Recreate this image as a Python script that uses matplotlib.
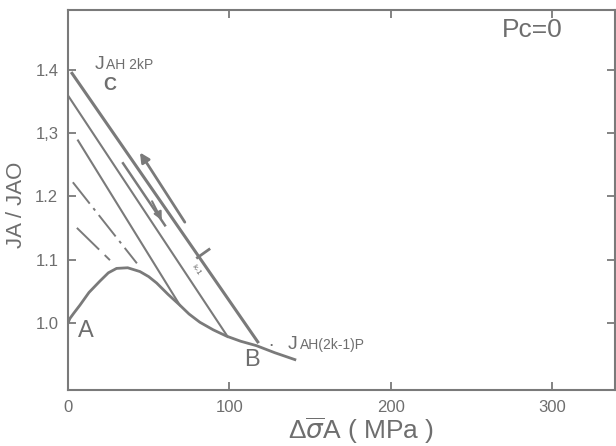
import matplotlib
matplotlib.use('Agg')
import matplotlib.pyplot as plt

# values (x in MPa, y = JA/JAO)
curve_x = [0, 1.2, 3.5, 7.4, 13.0, 19.8, 25.0, 30.1, 37.0, 44.6, 50.0, 54.9,
           62.0, 69.3, 75.0, 81.7, 90.0, 98.3, 107.0, 116.8, 128.0, 140.6]
curve_y = [1.000, 1.007, 1.015, 1.028, 1.048, 1.066, 1.079, 1.086, 1.087, 1.081,
           1.073, 1.063, 1.045, 1.028, 1.014, 1.001, 0.989, 0.979, 0.971, 0.964,
           0.953, 0.942]

line_c_x = [2.5, 117.6]
line_c_y = [1.394, 0.970]
line_2_x = [0.0, 99.0]
line_2_y = [1.359, 0.978]
line_3_x = [6.2, 69.3]
line_3_y = [1.288, 1.028]
line_dd_x = [3.0, 42.7]
line_dd_y = [1.222, 1.094]
line_d_x = [5.5, 26.0]
line_d_y = [1.150, 1.099]

# loading path segments beside line C
seg_up_x = [72.4, 44.6]
seg_up_y = [1.159, 1.269]
seg_dn_x = [34.1, 60.1]
seg_dn_y = [1.252, 1.154]
mark_x = [80.2, 87.4]
mark_y = [1.103, 1.116]

xticks = [0, 100, 200, 300]
yticks = [1.0, 1.1, 1.2, 1.3, 1.4]
ylabels = ['1.0', '1.1', '1.2', '1,3', '1.4']

gray = '#7a7a7a'
tgray = '#6e6e6e'

plt.rcParams['font.family'] = ['Liberation Sans', 'DejaVu Sans']

fig = plt.figure(figsize=(6.16, 4.46), dpi=100)
ax = fig.add_axes([68/616., 1-390/446., 547/616., 380/446.])
ax.set_xlim(0, 339)
ax.set_ylim(0.894, 1.494)

ax.plot(curve_x, curve_y, color=gray, lw=2.0)
ax.plot(line_c_x, line_c_y, color=gray, lw=2.2)
ax.plot(line_2_x, line_2_y, color=gray, lw=1.5)
ax.plot(line_3_x, line_3_y, color=gray, lw=1.5)
ax.plot(line_dd_x, line_dd_y, color=gray, lw=1.4, ls=(0, (14, 3, 1.5, 3)))
ax.plot(line_d_x, line_d_y, color=gray, lw=1.4, ls=(0, (16, 4)))

ax.annotate('', xy=(seg_up_x[1], seg_up_y[1]), xytext=(seg_up_x[0], seg_up_y[0]),
            arrowprops=dict(arrowstyle='-|>', color=gray, lw=2.0,
                            mutation_scale=14, shrinkA=0, shrinkB=0))
ax.plot(seg_dn_x, seg_dn_y, color=gray, lw=1.8)
ax.annotate('', xy=(seg_dn_x[1] - 2, seg_dn_y[1] + 0.008),
            xytext=(seg_dn_x[1] - 8, seg_dn_y[1] + 0.038),
            arrowprops=dict(arrowstyle='-|>', color=gray, lw=1.5,
                            mutation_scale=12, shrinkA=0, shrinkB=0))
ax.plot(mark_x, mark_y, color=gray, lw=2.0)

ax.text(79, 1.083, 'k-1', rotation=-57, fontsize=6, color=tgray,
        ha='center', va='center')

# annotations
ax.text(16.5, 1.401, 'J', fontsize=14, color=tgray, va='baseline')
ax.text(23.5, 1.401, 'AH 2kP', fontsize=10, color=tgray, va='baseline')
ax.text(26, 1.375, 'C', fontsize=13, color=tgray, ha='center', va='center',
        fontweight='bold')
ax.text(11, 0.987, 'A', fontsize=17, color=tgray, ha='center', va='center')
ax.text(114, 0.942, 'B', fontsize=17, color=tgray, ha='center', va='center')
ax.text(124, 0.963, '.', fontsize=14, color=tgray, va='baseline')
ax.text(136.2, 0.959, 'J', fontsize=14, color=tgray, va='baseline')
ax.text(143.5, 0.959, 'AH(2k-1)P', fontsize=10, color=tgray, va='baseline')
ax.text(288, 1.462, 'Pc=0', fontsize=19, color=tgray, ha='center', va='center')

ax.set_xticks(xticks)
ax.set_yticks(yticks)
ax.set_yticklabels(ylabels)
ax.tick_params(direction='in', length=6, width=1.3, color=gray,
               labelcolor=tgray, labelsize=12, pad=7,
               top=True, right=True)
for s in ax.spines.values():
    s.set_color(gray)
    s.set_linewidth(1.5)

fig.text(16/616., 1-205/446., 'JA / JAO', rotation=90, fontsize=16,
         color=tgray, ha='center', va='center')
fig.text(361/616., 1-431/446., r'Δ$\overline{\sigma}$A ( MPa )', fontsize=19,
         color=tgray, ha='center', va='center')

fig.savefig('out.png', dpi=100)
